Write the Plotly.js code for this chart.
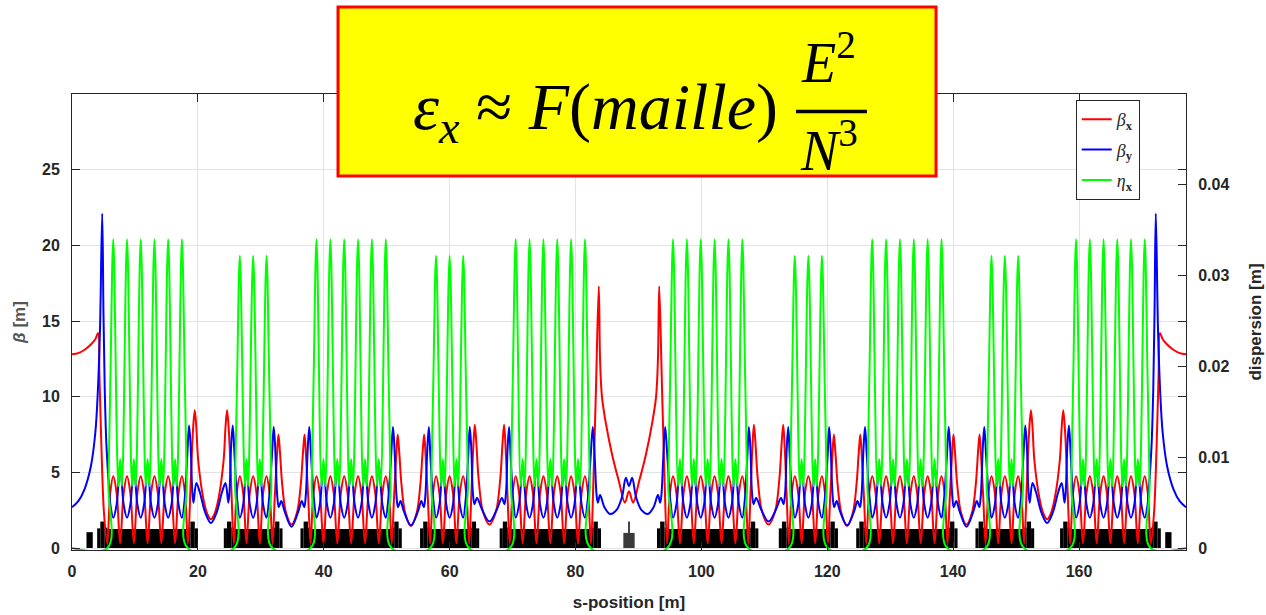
<!DOCTYPE html>
<html><head><meta charset="utf-8">
<script src="https://cdn.plot.ly/plotly-3.0.1.min.js"></script>
<style>html,body{margin:0;padding:0;background:#fff}#chart{width:1266px;height:615px}</style>
</head><body><div id="chart"></div>
<script>
// ---- axis ticks ----
const sTicks = [0,20,40,60,80,100,120,140,160];
const betaTicks = [0,5,10,15,20,25];
const dispTicks = [0,0.01,0.02,0.03,0.04];
const dispTickText = ['0','0.01','0.02','0.03','0.04'];
const seriesNames = ['<i>β</i><sub><b>x</b></sub>','<i>β</i><sub><b>y</b></sub>','<i>η</i><sub><b>x</b></sub>'];

// ---- beta_x [m] : [s, value] ----
const betaXData = [
[0,12.8],[1.0,12.88],[2.0,13.1],[3.0,13.45],[3.7,13.8],[4.15,14.2],[4.35,11.5],[4.55,8.5],[4.8,5.0],[5.1,2.2],[5.61,0.3],[6.06,3.6],[6.56,4.75],
[7.10,3.6],[7.65,0.3],[8.20,3.6],[8.74,4.75],[9.28,3.6],[9.83,0.3],[10.38,3.6],[10.92,4.75],[11.46,3.6],[12.01,0.3],[12.56,3.6],[13.10,4.75],[13.64,3.6],[14.19,0.3],[14.74,3.6],[15.28,4.75],[15.82,3.6],[16.37,0.3],[16.92,3.6],[17.46,4.75],
[17.96,3.6],[18.41,0.3],[18.85,4.2],[19.2,7.6],[19.5,9.1],[19.75,8.0],[20.05,5.8],[20.85,3.3],[21.5,2.25],[22.07,1.9],[22.64,2.25],[23.29,3.3],[24.09,5.8],[24.39,8.0],[24.64,9.1],[24.94,7.6],[25.29,4.2],[25.72,0.3],[26.17,3.6],[26.67,4.75],
[27.21,3.6],[27.725,0.3],[28.24,3.6],[28.78,4.75],[29.32,3.6],[29.84,0.3],[30.36,3.6],[30.90,4.75],
[31.40,3.6],[31.85,0.3],[32.2,3.2],[32.55,6.0],[32.8,7.5],[33.05,6.3],[33.4,4.2],[34.0,2.35],[34.875,1.55],[35.75,2.35],[36.35,4.2],[36.7,6.3],[36.95,7.5],[37.2,6.0],[37.55,3.2],[37.90,0.3],[38.35,3.6],[38.85,4.75],
[39.39,3.6],[39.95,0.3],[40.51,3.6],[41.05,4.75],[41.59,3.6],[42.15,0.3],[42.71,3.6],[43.25,4.75],[43.79,3.6],[44.35,0.3],[44.91,3.6],[45.45,4.75],[45.99,3.6],[46.55,0.3],[47.11,3.6],[47.65,4.75],[48.19,3.6],[48.75,0.3],[49.31,3.6],[49.85,4.75],
[50.35,3.6],[50.80,0.3],[51.15,3.2],[51.5,6.0],[51.75,7.5],[52.0,6.3],[52.35,4.2],[52.95,2.3],[53.85,1.45],[54.75,2.3],[55.35,4.2],[55.7,6.3],[55.95,7.5],[56.2,6.0],[56.55,3.2],[56.90,0.3],[57.35,3.6],[57.85,4.75],
[58.39,3.6],[58.925,0.3],[59.46,3.6],[60.00,4.75],[60.54,3.6],[61.075,0.3],[61.61,3.6],[62.15,4.75],
[62.65,3.6],[63.10,0.3],[63.45,3.5],[63.75,6.6],[64.0,8.15],[64.25,6.9],[64.6,4.6],[65.3,2.4],[66.325,1.55],[67.35,2.4],[68.05,4.6],[68.4,6.9],[68.65,8.15],[68.9,6.6],[69.2,3.5],[69.55,0.3],[70.0,3.6],[70.5,4.75],
[71.04,3.6],[71.60,0.3],[72.16,3.6],[72.70,4.75],[73.24,3.6],[73.80,0.3],[74.36,3.6],[74.90,4.75],[75.44,3.6],[76.00,0.3],[76.56,3.6],[77.10,4.75],[77.64,3.6],[78.20,0.3],[78.76,3.6],[79.30,4.75],[79.84,3.6],[80.40,0.3],[80.96,3.6],[81.50,4.75],
[82.0,3.6],[82.45,0.3],[82.85,4.5],[83.25,10.5],[83.7,17.3],[83.9,12.5],[84.2,10.0],[84.8,8.3],[85.8,6.2],[86.9,4.4],[87.85,3.0],[88.5,3.75],[89.15,3.0],[90.1,4.4],[91.2,6.2],[92.2,8.3],[92.8,10.0],[93.1,12.5],[93.3,17.3],[93.75,10.5],[94.15,4.5],[94.55,0.3],[95.0,3.6],[95.5,4.75],
[96.04,3.6],[96.60,0.3],[97.16,3.6],[97.70,4.75],[98.24,3.6],[98.80,0.3],[99.36,3.6],[99.90,4.75],[100.44,3.6],[101.00,0.3],[101.56,3.6],[102.10,4.75],[102.64,3.6],[103.20,0.3],[103.76,3.6],[104.30,4.75],[104.84,3.6],[105.40,0.3],[105.96,3.6],[106.50,4.75],
[107.0,3.6],[107.45,0.3],[107.8,3.5],[108.1,6.6],[108.35,8.15],[108.6,6.9],[108.95,4.6],[109.65,2.4],[110.675,1.55],[111.7,2.4],[112.4,4.6],[112.75,6.9],[113.0,8.15],[113.25,6.6],[113.55,3.5],[113.9,0.3],[114.35,3.6],[114.85,4.75],
[115.39,3.6],[115.925,0.3],[116.46,3.6],[117.00,4.75],[117.54,3.6],[118.075,0.3],[118.61,3.6],[119.15,4.75],
[119.65,3.6],[120.10,0.3],[120.45,3.2],[120.8,6.0],[121.05,7.5],[121.3,6.3],[121.65,4.2],[122.25,2.3],[123.15,1.45],[124.05,2.3],[124.65,4.2],[125.0,6.3],[125.25,7.5],[125.5,6.0],[125.85,3.2],[126.2,0.3],[126.65,3.6],[127.15,4.75],
[127.69,3.6],[128.25,0.3],[128.81,3.6],[129.35,4.75],[129.89,3.6],[130.45,0.3],[131.01,3.6],[131.55,4.75],[132.09,3.6],[132.65,0.3],[133.21,3.6],[133.75,4.75],[134.29,3.6],[134.85,0.3],[135.41,3.6],[135.95,4.75],[136.49,3.6],[137.05,0.3],[137.61,3.6],[138.15,4.75],
[138.65,3.6],[139.10,0.3],[139.45,3.2],[139.8,6.0],[140.05,7.5],[140.3,6.3],[140.65,4.2],[141.25,2.35],[142.125,1.55],[143.0,2.35],[143.6,4.2],[143.95,6.3],[144.2,7.5],[144.45,6.0],[144.8,3.2],[145.15,0.3],[145.6,3.6],[146.1,4.75],
[146.64,3.6],[147.16,0.3],[147.68,3.6],[148.22,4.75],[148.76,3.6],[149.275,0.3],[149.79,3.6],[150.33,4.75],
[150.83,3.6],[151.28,0.3],[151.71,4.2],[152.06,7.6],[152.36,9.1],[152.61,8.0],[152.91,5.8],[153.71,3.3],[154.36,2.25],[154.93,1.9],[155.5,2.25],[156.15,3.3],[156.95,5.8],[157.25,8.0],[157.5,9.1],[157.8,7.6],[158.15,4.2],[158.59,0.3],[159.04,3.6],[159.54,4.75],
[160.08,3.6],[160.63,0.3],[161.18,3.6],[161.72,4.75],[162.26,3.6],[162.81,0.3],[163.36,3.6],[163.90,4.75],[164.44,3.6],[164.99,0.3],[165.54,3.6],[166.08,4.75],[166.62,3.6],[167.17,0.3],[167.72,3.6],[168.26,4.75],[168.80,3.6],[169.35,0.3],[169.90,3.6],[170.44,4.75],
[170.94,3.6],[171.39,0.3],[171.9,2.2],[172.2,5.0],[172.45,8.5],[172.65,11.5],[172.85,14.2],[173.3,13.8],[174.0,13.45],[175.0,13.1],[176.0,12.88],[177.0,12.8]
];

// ---- beta_y [m] ----
const betaYData = [
[0,2.7],[1.0,3.1],[2.0,3.9],[3.0,5.4],[3.7,7.6],[4.1,10.3],[4.45,14.5],[4.8,22.1],[5.0,15.5],[5.2,10.5],[5.45,7.0],[5.8,4.5],[6.15,2.7],[6.56,2.0],
[7.10,2.9],[7.65,5.5],[8.20,2.9],[8.74,2.0],[9.28,2.9],[9.83,5.5],[10.38,2.9],[10.92,2.0],[11.46,2.9],[12.01,5.5],[12.56,2.9],[13.10,2.0],[13.64,2.9],[14.19,5.5],[14.74,2.9],[15.28,2.0],[15.82,2.9],[16.37,5.5],[16.92,2.9],[17.46,2.0],
[17.9,3.2],[18.3,6.0],[18.6,8.1],[18.85,6.8],[19.1,3.8],[19.3,3.0],[19.75,4.3],[20.3,3.7],[21.2,2.3],[22.07,1.65],[22.94,2.3],[23.84,3.7],[24.39,4.3],[24.84,3.0],[25.04,3.8],[25.29,6.8],[25.54,8.1],[25.84,6.0],[26.24,3.2],[26.67,2.0],
[27.21,2.9],[27.725,5.5],[28.24,2.9],[28.78,2.0],[29.32,2.9],[29.84,5.5],[30.36,2.9],[30.90,2.0],
[31.3,3.2],[31.75,6.0],[32.05,8.0],[32.3,6.5],[32.6,3.5],[32.85,2.7],[33.25,3.1],[33.8,2.4],[34.875,1.4],[35.95,2.4],[36.5,3.1],[36.9,2.7],[37.15,3.5],[37.45,6.5],[37.7,8.0],[38.0,6.0],[38.45,3.2],[38.85,2.0],
[39.39,2.9],[39.95,5.5],[40.51,2.9],[41.05,2.0],[41.59,2.9],[42.15,5.5],[42.71,2.9],[43.25,2.0],[43.79,2.9],[44.35,5.5],[44.91,2.9],[45.45,2.0],[45.99,2.9],[46.55,5.5],[47.11,2.9],[47.65,2.0],[48.19,2.9],[48.75,5.5],[49.31,2.9],[49.85,2.0],
[50.25,3.2],[50.70,6.0],[51.0,8.0],[51.25,6.5],[51.55,3.5],[51.8,2.7],[52.2,3.1],[52.75,2.4],[53.85,1.5],[54.95,2.4],[55.5,3.1],[55.9,2.7],[56.15,3.5],[56.45,6.5],[56.7,8.0],[56.95,6.0],[57.4,3.2],[57.85,2.0],
[58.39,2.9],[58.925,5.5],[59.46,2.9],[60.00,2.0],[60.54,2.9],[61.075,5.5],[61.61,2.9],[62.15,2.0],
[62.55,3.2],[62.95,6.0],[63.2,8.0],[63.45,6.5],[63.7,3.6],[63.95,2.9],[64.35,3.3],[65.1,2.6],[66.325,1.75],[67.55,2.6],[68.3,3.3],[68.7,2.9],[68.95,3.6],[69.2,6.5],[69.45,8.0],[69.7,6.0],[70.1,3.2],[70.5,2.0],
[71.04,2.9],[71.60,5.5],[72.16,2.9],[72.70,2.0],[73.24,2.9],[73.80,5.5],[74.36,2.9],[74.90,2.0],[75.44,2.9],[76.00,5.5],[76.56,2.9],[77.10,2.0],[77.64,2.9],[78.20,5.5],[78.76,2.9],[79.30,2.0],[79.84,2.9],[80.40,5.5],[80.96,2.9],[81.50,2.0],
[81.95,3.2],[82.4,6.0],[82.75,8.0],[83.05,6.0],[83.35,3.5],[83.55,3.0],[83.9,3.5],[84.6,2.7],[85.5,2.25],[86.5,2.5],[87.4,3.4],[88.0,4.65],[88.5,4.1],[89.0,4.65],[89.6,3.4],[90.5,2.5],[91.5,2.25],[92.4,2.7],[93.1,3.5],[93.45,3.0],[93.65,3.5],[93.95,6.0],[94.25,8.0],[94.6,6.0],[95.05,3.2],[95.5,2.0],
[96.04,2.9],[96.60,5.5],[97.16,2.9],[97.70,2.0],[98.24,2.9],[98.80,5.5],[99.36,2.9],[99.90,2.0],[100.44,2.9],[101.00,5.5],[101.56,2.9],[102.10,2.0],[102.64,2.9],[103.20,5.5],[103.76,2.9],[104.30,2.0],[104.84,2.9],[105.40,5.5],[105.96,2.9],[106.50,2.0],
[106.9,3.2],[107.3,6.0],[107.55,8.0],[107.8,6.5],[108.05,3.6],[108.3,2.9],[108.7,3.3],[109.45,2.6],[110.675,1.75],[111.9,2.6],[112.65,3.3],[113.05,2.9],[113.3,3.6],[113.55,6.5],[113.8,8.0],[114.05,6.0],[114.45,3.2],[114.85,2.0],
[115.39,2.9],[115.925,5.5],[116.46,2.9],[117.00,2.0],[117.54,2.9],[118.075,5.5],[118.61,2.9],[119.15,2.0],
[119.6,3.2],[120.05,6.0],[120.3,8.0],[120.55,6.5],[120.85,3.5],[121.1,2.7],[121.5,3.1],[122.05,2.4],[123.15,1.5],[124.25,2.4],[124.8,3.1],[125.2,2.7],[125.45,3.5],[125.75,6.5],[126.0,8.0],[126.3,6.0],[126.75,3.2],[127.15,2.0],
[127.69,2.9],[128.25,5.5],[128.81,2.9],[129.35,2.0],[129.89,2.9],[130.45,5.5],[131.01,2.9],[131.55,2.0],[132.09,2.9],[132.65,5.5],[133.21,2.9],[133.75,2.0],[134.29,2.9],[134.85,5.5],[135.41,2.9],[135.95,2.0],[136.49,2.9],[137.05,5.5],[137.61,2.9],[138.15,2.0],
[138.55,3.2],[139.0,6.0],[139.3,8.0],[139.55,6.5],[139.85,3.5],[140.1,2.7],[140.5,3.1],[141.05,2.4],[142.125,1.4],[143.2,2.4],[143.75,3.1],[144.15,2.7],[144.4,3.5],[144.7,6.5],[144.95,8.0],[145.25,6.0],[145.7,3.2],[146.1,2.0],
[146.64,2.9],[147.16,5.5],[147.68,2.9],[148.22,2.0],[148.76,2.9],[149.275,5.5],[149.79,2.9],[150.33,2.0],
[150.76,3.2],[151.16,6.0],[151.46,8.1],[151.71,6.8],[151.96,3.8],[152.16,3.0],[152.61,4.3],[153.16,3.7],[154.06,2.3],[154.93,1.65],[155.8,2.3],[156.7,3.7],[157.25,4.3],[157.7,3.0],[157.9,3.8],[158.15,6.8],[158.4,8.1],[158.7,6.0],[159.1,3.2],[159.54,2.0],
[160.08,2.9],[160.63,5.5],[161.18,2.9],[161.72,2.0],[162.26,2.9],[162.81,5.5],[163.36,2.9],[163.90,2.0],[164.44,2.9],[164.99,5.5],[165.54,2.9],[166.08,2.0],[166.62,2.9],[167.17,5.5],[167.72,2.9],[168.26,2.0],[168.80,2.9],[169.35,5.5],[169.90,2.9],[170.44,2.0],
[170.85,2.7],[171.2,4.5],[171.55,7.0],[171.8,10.5],[172.0,15.5],[172.2,22.1],[172.55,14.5],[172.9,10.3],[173.3,7.6],[174.0,5.4],[175.0,3.9],[176.0,3.1],[177.0,2.7]
];

// ---- eta_x (dispersion) [m] ----
const etaXData = [
[0,0],
[5.64,0],[5.79,0.007],[6.11,0.019],[6.56,0.034],[7.36,0.0068],[7.65,0.0098],[7.94,0.0068],[8.74,0.034],[9.54,0.0068],[9.83,0.0098],[10.12,0.0068],[10.92,0.034],[11.72,0.0068],[12.01,0.0098],[12.30,0.0068],[13.10,0.034],[13.90,0.0068],[14.19,0.0098],[14.48,0.0068],[15.28,0.034],[16.08,0.0068],[16.37,0.0098],[16.66,0.0068],[17.46,0.034],[17.91,0.019],[18.23,0.007],[18.38,0],
[25.75,0],[25.90,0.007],[26.22,0.018],[26.67,0.0322],[27.47,0.0068],[27.725,0.0098],[27.98,0.0068],[28.78,0.0322],[29.58,0.0068],[29.84,0.0098],[30.10,0.0068],[30.90,0.0322],[31.35,0.018],[31.67,0.007],[31.82,0],
[37.93,0],[38.08,0.007],[38.40,0.019],[38.85,0.034],[39.65,0.0068],[39.95,0.0098],[40.25,0.0068],[41.05,0.034],[41.85,0.0068],[42.15,0.0098],[42.45,0.0068],[43.25,0.034],[44.05,0.0068],[44.35,0.0098],[44.65,0.0068],[45.45,0.034],[46.25,0.0068],[46.55,0.0098],[46.85,0.0068],[47.65,0.034],[48.45,0.0068],[48.75,0.0098],[49.05,0.0068],[49.85,0.034],[50.30,0.019],[50.62,0.007],[50.77,0],
[56.93,0],[57.08,0.007],[57.40,0.018],[57.85,0.0322],[58.65,0.0068],[58.925,0.0098],[59.20,0.0068],[60.00,0.0322],[60.80,0.0068],[61.075,0.0098],[61.35,0.0068],[62.15,0.0322],[62.60,0.018],[62.92,0.007],[63.07,0],
[69.58,0],[69.73,0.007],[70.05,0.019],[70.50,0.034],[71.30,0.0068],[71.60,0.0098],[71.90,0.0068],[72.70,0.034],[73.50,0.0068],[73.80,0.0098],[74.10,0.0068],[74.90,0.034],[75.70,0.0068],[76.00,0.0098],[76.30,0.0068],[77.10,0.034],[77.90,0.0068],[78.20,0.0098],[78.50,0.0068],[79.30,0.034],[80.10,0.0068],[80.40,0.0098],[80.70,0.0068],[81.50,0.034],[81.95,0.019],[82.27,0.007],[82.42,0],
[94.58,0],[94.73,0.007],[95.05,0.019],[95.50,0.034],[96.30,0.0068],[96.60,0.0098],[96.90,0.0068],[97.70,0.034],[98.50,0.0068],[98.80,0.0098],[99.10,0.0068],[99.90,0.034],[100.70,0.0068],[101.00,0.0098],[101.30,0.0068],[102.10,0.034],[102.90,0.0068],[103.20,0.0098],[103.50,0.0068],[104.30,0.034],[105.10,0.0068],[105.40,0.0098],[105.70,0.0068],[106.50,0.034],[106.95,0.019],[107.27,0.007],[107.42,0],
[113.93,0],[114.08,0.007],[114.40,0.018],[114.85,0.0322],[115.65,0.0068],[115.925,0.0098],[116.20,0.0068],[117.00,0.0322],[117.80,0.0068],[118.075,0.0098],[118.35,0.0068],[119.15,0.0322],[119.60,0.018],[119.92,0.007],[120.07,0],
[126.23,0],[126.38,0.007],[126.70,0.019],[127.15,0.034],[127.95,0.0068],[128.25,0.0098],[128.55,0.0068],[129.35,0.034],[130.15,0.0068],[130.45,0.0098],[130.75,0.0068],[131.55,0.034],[132.35,0.0068],[132.65,0.0098],[132.95,0.0068],[133.75,0.034],[134.55,0.0068],[134.85,0.0098],[135.15,0.0068],[135.95,0.034],[136.75,0.0068],[137.05,0.0098],[137.35,0.0068],[138.15,0.034],[138.60,0.019],[138.92,0.007],[139.07,0],
[145.18,0],[145.33,0.007],[145.65,0.018],[146.10,0.0322],[146.90,0.0068],[147.16,0.0098],[147.42,0.0068],[148.22,0.0322],[149.02,0.0068],[149.275,0.0098],[149.53,0.0068],[150.33,0.0322],[150.78,0.018],[151.10,0.007],[151.25,0],
[158.62,0],[158.77,0.007],[159.09,0.019],[159.54,0.034],[160.34,0.0068],[160.63,0.0098],[160.92,0.0068],[161.72,0.034],[162.52,0.0068],[162.81,0.0098],[163.10,0.0068],[163.90,0.034],[164.70,0.0068],[164.99,0.0098],[165.28,0.0068],[166.08,0.034],[166.88,0.0068],[167.17,0.0098],[167.46,0.0068],[168.26,0.034],[169.06,0.0068],[169.35,0.0098],[169.64,0.0068],[170.44,0.034],[170.89,0.019],[171.21,0.007],[171.36,0],
[177,0]
];

// ---- lattice magnets: [s start, s end, height] ----
const magnetData = [
[2.3,3.3,1.05],
[4.0,4.5,1.3],[4.5,5.2,1.75],[5.2,5.61,1.35],[5.61,18.41,1.25],[18.41,18.81,1.35],[18.81,19.51,1.75],[19.51,20.01,1.3],
[24.12,24.62,1.3],[24.62,25.32,1.75],[25.32,25.72,1.35],[25.72,31.85,1.25],[31.85,32.25,1.35],[32.25,32.95,1.75],[32.95,33.45,1.3],
[36.3,36.8,1.3],[36.8,37.5,1.75],[37.5,37.9,1.35],[37.9,50.8,1.25],[50.8,51.2,1.35],[51.2,51.9,1.75],[51.9,52.4,1.3],
[55.3,55.8,1.3],[55.8,56.5,1.75],[56.5,56.9,1.35],[56.9,63.1,1.25],[63.1,63.5,1.35],[63.5,64.2,1.75],[64.2,64.7,1.3],
[67.95,68.45,1.3],[68.45,69.15,1.75],[69.15,69.55,1.35],[69.55,82.45,1.25],[82.45,82.85,1.35],[82.85,83.55,1.75],[83.55,84.05,1.3],
[92.95,93.45,1.3],[93.45,94.15,1.75],[94.15,94.55,1.35],[94.55,107.45,1.25],[107.45,107.85,1.35],[107.85,108.55,1.75],[108.55,109.05,1.3],
[112.3,112.8,1.3],[112.8,113.5,1.75],[113.5,113.9,1.35],[113.9,120.1,1.25],[120.1,120.5,1.35],[120.5,121.2,1.75],[121.2,121.7,1.3],
[124.6,125.1,1.3],[125.1,125.8,1.75],[125.8,126.2,1.35],[126.2,139.1,1.25],[139.1,139.5,1.35],[139.5,140.2,1.75],[140.2,140.7,1.3],
[143.55,144.05,1.3],[144.05,144.75,1.75],[144.75,145.15,1.35],[145.15,151.28,1.25],[151.28,151.68,1.35],[151.68,152.38,1.75],[152.38,152.88,1.3],
[156.99,157.49,1.3],[157.49,158.19,1.75],[158.19,158.59,1.35],[158.59,171.39,1.25],[171.39,171.79,1.35],[171.79,172.49,1.75],[172.49,173.0,1.3],
[173.7,174.7,1.05]
];
const cavityData = [[87.6,89.4,1.0],[88.35,88.65,1.75]];

// ---- build traces ----
const AX = '#262626';
function barTrace(list, color){
  return {type:'bar', x:list.map(m=>(m[0]+m[1])/2), width:list.map(m=>m[1]-m[0]),
    y:list.map(m=>m[2]), base:0, marker:{color:color, line:{width:0}}, showlegend:false,
    hoverinfo:'skip', yaxis:'y'};
}
function lineTrace(data, name, color, yaxis, grp){
  return {type:'scatter', mode:'lines', x:data.map(p=>p[0]), y:data.map(p=>p[1]), name:name,
    legendgroup:grp, line:{color:color, width:2, shape:'spline', smoothing:1}, yaxis:yaxis, hoverinfo:'skip'};
}
const traces = [
  barTrace(magnetData,'#000000'),
  barTrace(cavityData,'#3a3a3a'),
  lineTrace(betaXData, seriesNames[0], '#ff0000', 'y', 'a'),
  lineTrace(betaYData, seriesNames[1], '#0000ff', 'y', 'b'),
  lineTrace(etaXData, seriesNames[2], '#00ff00', 'y2', 'c')
];

const Y0 = -0.13;
const tickFont = {family:'Liberation Sans, Arial, sans-serif', size:16, color:AX, weight:'bold'};
const layout = {
  width:1266, height:615,
  margin:{l:72, r:80, t:94, b:65},
  paper_bgcolor:'#ffffff', plot_bgcolor:'#ffffff',
  barmode:'overlay', showlegend:true, hovermode:false,
  xaxis:{range:[0,177], tickvals:sTicks, ticks:'inside', ticklen:8, tickcolor:AX, tickwidth:1,
    showline:true, linecolor:AX, linewidth:1, mirror:'ticks', showgrid:true, gridcolor:'#e3e3e3', zeroline:false,
    tickfont:tickFont, ticklabelstandoff:7,
    title:{text:'s-position [m]', font:{family:'Liberation Sans, Arial, sans-serif', size:17, color:AX, weight:'bold'}, standoff:16}},
  yaxis:{range:[Y0,30], tickvals:betaTicks, ticks:'inside', ticklen:8, tickcolor:AX,
    showline:true, linecolor:AX, linewidth:1, mirror:'ticks', showgrid:true, gridcolor:'#e3e3e3', zeroline:false,
    tickfont:tickFont, ticklabelstandoff:8,
    title:{text:'<i>β</i> [m]', font:{family:'Liberation Sans, Arial, sans-serif', size:17, color:'#555555', weight:'bold'}, standoff:12}},
  yaxis2:{overlaying:'y', side:'right', range:[Y0/600,0.05], tickvals:dispTicks, ticktext:dispTickText,
    ticks:'inside', ticklen:8, tickcolor:AX, showline:true, linecolor:AX, showgrid:false, zeroline:false,
    tickfont:tickFont, ticklabelstandoff:8,
    title:{text:'dispersion [m]', font:{family:'Liberation Sans, Arial, sans-serif', size:17, color:AX, weight:'bold'}, standoff:20}},
  legend:{x:0.901, y:0.987, xanchor:'left', yanchor:'top', bgcolor:'#ffffff', bordercolor:AX, borderwidth:1,
    font:{family:'Liberation Serif, serif', size:18, color:AX}, tracegroupgap:4, traceorder:'grouped'},
  shapes:[
    {type:'rect', xref:'paper', yref:'paper', x0:0.2388, x1:0.7756, y0:0.8202, y1:1.1908,
      fillcolor:'#ffff00', line:{color:'#ff0000', width:3}, layer:'above'},
    {type:'line', xref:'paper', yref:'paper', x0:0.6499, x1:0.7136, y0:0.9616, y1:0.9616,
      line:{color:'#000000', width:3.5}, layer:'above'}
  ],
  annotations:[
    {xref:'paper', yref:'paper', x:0.4695, y:0.962, xanchor:'center', yanchor:'middle', showarrow:false,
      text:'<i>ε</i><sub><i>x</i></sub> ≈ <i>F</i>(<i>maille</i>)', font:{family:'Liberation Serif, serif', size:66, color:'#000000'}},
    {xref:'paper', yref:'paper', x:0.6795, y:1.078, xanchor:'center', yanchor:'middle', showarrow:false,
      text:'<i>E</i><sup>2</sup>', font:{family:'Liberation Serif, serif', size:56, color:'#000000'}},
    {xref:'paper', yref:'paper', x:0.6795, y:0.885, xanchor:'center', yanchor:'middle', showarrow:false,
      text:'<i>N</i><sup>3</sup>', font:{family:'Liberation Serif, serif', size:56, color:'#000000'}}
  ]
};
Plotly.newPlot('chart', traces, layout, {displayModeBar:false, staticPlot:true});
</script>
</body></html>
